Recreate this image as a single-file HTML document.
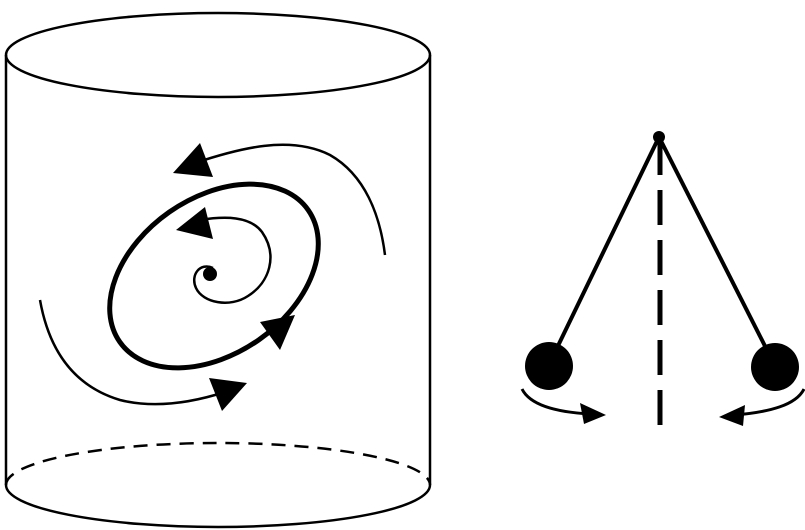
<!DOCTYPE html>
<html><head><meta charset="utf-8"><style>html,body{margin:0;padding:0;background:#fff}svg{display:block}</style></head>
<body>
<svg width="805" height="530" viewBox="0 0 805 530">
<g fill="none" stroke="#000" stroke-width="2.5">
  <ellipse cx="218" cy="55" rx="212" ry="42"/>
  <line x1="6" y1="55" x2="6" y2="485"/>
  <line x1="430" y1="55" x2="430" y2="485"/>
  <path d="M6 485 A212 42 0 0 0 430 485"/>
  <path d="M6 485 A212 42 0 0 1 430 485" stroke-dasharray="14 9"/>
</g>
<g fill="none" stroke="#000">
  <ellipse cx="214" cy="276" rx="115" ry="78" transform="rotate(-35 214 276)" stroke-width="5"/>
  <path d="M195 163 C240 148 290 135 330 155 C365 175 380 215 385 255" stroke-width="2.5"/>
  <path d="M40 300 C48 345 70 385 120 400 C160 410 200 400 225 392" stroke-width="2.5"/>
  <path d="M213 268 C200 262 190 275 196 288 C203 303 230 308 248 296 C270 282 278 255 262 232 C250 216 225 216 200 220" stroke-width="2.5"/>
  <circle cx="210" cy="274" r="7" fill="#000" stroke="none"/>
</g>
<g fill="#000">
  <polygon points="173,173 200,143 213,177"/>
  <polygon points="176,230 205,207 213,239"/>
  <polygon points="295,315 260,322 280,350"/>
  <polygon points="247,383 209,378 222,411"/>
</g>
<g stroke="#000" fill="none">
  <line x1="660" y1="140" x2="660" y2="425" stroke-width="5" stroke-dasharray="35 15"/>
  <line x1="659" y1="137" x2="555" y2="352" stroke-width="4"/>
  <line x1="659" y1="137" x2="768" y2="352" stroke-width="4"/>
  <circle cx="659" cy="137" r="6" fill="#000" stroke="none"/>
  <circle cx="549" cy="366" r="24" fill="#000" stroke="none"/>
  <circle cx="775" cy="367" r="24" fill="#000" stroke="none"/>
  <path d="M522 389 C530 405 555 412 590 414" stroke-width="3"/>
  <polygon points="606,415 580,403 584,424" fill="#000" stroke="none"/>
  <path d="M804 389 C796 405 770 412 735 415" stroke-width="3"/>
  <polygon points="719,417 745,405 743,426" fill="#000" stroke="none"/>
</g>
</svg>
</body></html>
